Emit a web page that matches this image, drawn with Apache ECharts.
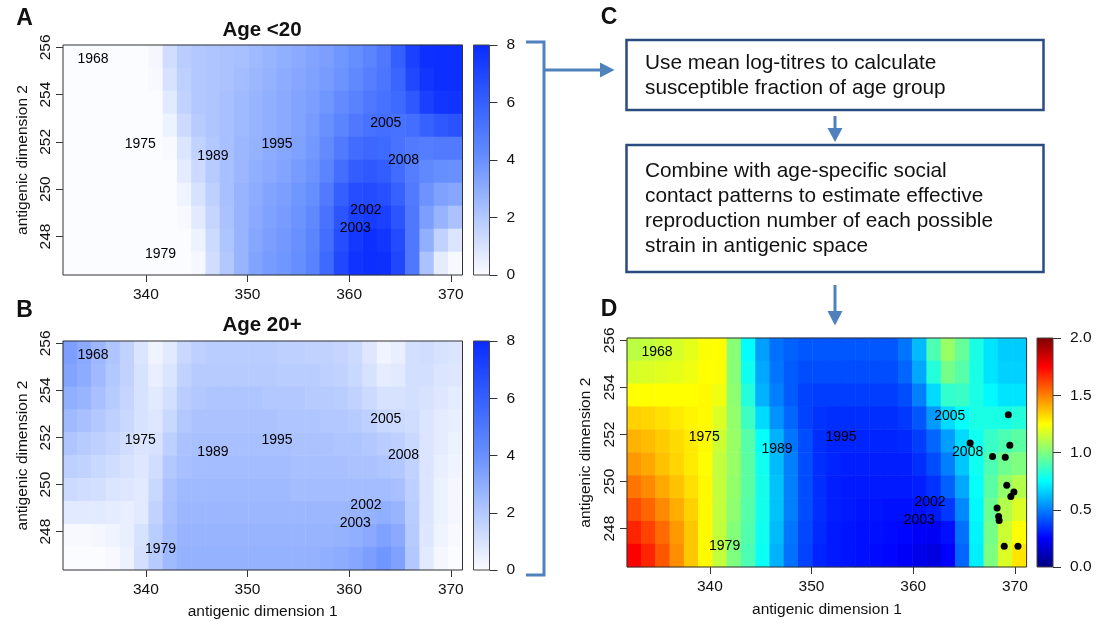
<!DOCTYPE html>
<html>
<head>
<meta charset="utf-8"/>
<title>Antigenic space - titres and reproduction number</title>
<script src="https://cdn.jsdelivr.net/npm/echarts@6/dist/echarts.min.js"></script>
<style>
    html, body { margin: 0; padding: 0; background: #fff; }
    #main { width: 1109px; height: 624px; }
</style>
</head>
<body>
<div id="main"></div>
<script>
    // axis ranges and ticks
    var xMin = 331.85, xMax = 371.15;
    var yMin = 246.37, yMax = 256.1;
    var xTicks = [340, 350, 360, 370];
    var yTicks = [248, 250, 252, 254, 256];
    var titreTicks = [0, 2, 4, 6, 8];
    var reffTicks = [0, 0.5, 1, 1.5, 2];

    // strain labels
    var yearNames = ['1968', '1975', '1979', '1989', '1995', '2002', '2003', '2005', '2008'];
    var yearX = [334.8, 339.45, 341.45, 346.6, 352.9, 361.65, 360.6, 363.6, 365.35];
    var yearY = [255.5, 251.9, 247.24, 251.38, 251.9, 249.12, 248.37, 252.78, 251.25];

    // recent strains (panel D dots)
    var dotX = [369.35, 365.6, 369.5, 367.8, 369.05, 369.2, 369.9, 369.6, 368.25, 368.4, 368.45, 368.95, 370.3];
    var dotY = [252.84, 251.64, 251.54, 251.07, 251.03, 249.84, 249.56, 249.37, 248.88, 248.52, 248.35, 247.25, 247.25];

    // mean log-titre, age <20 (rows top -> bottom, 28 columns left -> right)
    var titreYoung = [
        [0,0,0,0,0,0,0.2,1.2,1.8,2.0,2.1,2.2,2.3,2.5,2.7,2.9,3.1,3.3,3.5,3.8,4.1,4.5,5.0,6.0,7.2,7.8,7.9,7.9],
        [0,0,0,0,0,0,0.1,1.0,1.7,2.0,2.1,2.2,2.4,2.6,2.8,3.0,3.2,3.4,3.6,3.9,4.3,4.7,5.1,5.8,6.9,7.6,7.9,7.9],
        [0,0,0,0,0,0,0,0.7,1.6,2.0,2.1,2.3,2.5,2.7,2.9,3.1,3.3,3.5,3.8,4.2,4.6,5.0,5.3,5.6,6.3,7.2,7.6,7.7],
        [0,0,0,0,0,0,0,0.4,1.3,1.9,2.1,2.3,2.5,2.7,2.9,3.1,3.3,3.6,4.0,4.5,5.0,5.3,5.4,5.3,5.4,5.9,6.3,6.5],
        [0,0,0,0,0,0,0,0.1,0.9,1.6,2.0,2.3,2.6,2.8,3.0,3.2,3.4,3.7,4.2,4.9,5.5,5.7,5.6,5.2,4.9,4.8,4.9,4.9],
        [0,0,0,0,0,0,0,0,0.6,1.3,1.9,2.3,2.6,2.9,3.1,3.3,3.6,3.9,4.5,5.4,6.1,6.3,6.1,5.5,4.8,4.3,4.1,4.0],
        [0,0,0,0,0,0,0,0,0.3,1.0,1.7,2.3,2.7,3.0,3.3,3.5,3.8,4.1,4.9,6.0,6.7,6.8,6.6,5.9,4.9,3.9,3.4,3.2],
        [0,0,0,0,0,0,0,0,0.1,0.7,1.5,2.2,2.7,3.1,3.4,3.6,3.9,4.3,5.2,6.4,7.2,7.4,7.2,6.4,5.0,3.5,2.7,2.2],
        [0,0,0,0,0,0,0,0,0,0.4,1.3,2.1,2.7,3.2,3.5,3.7,4.0,4.5,5.4,6.7,7.5,7.8,7.6,6.8,5.0,2.9,1.6,0.9],
        [0,0,0,0,0,0,0,0,0,0.15,1.2,2.0,2.7,3.3,3.6,3.8,4.1,4.6,5.6,6.9,7.7,7.9,7.8,7.0,5.0,2.2,0.6,0.1]
    ];

    // mean log-titre, age 20+
    var titreOld = [
        [3.5,3.1,2.6,2.1,1.6,0.9,0.3,0.7,1.4,1.7,1.8,1.8,1.8,1.8,1.8,1.7,1.7,1.6,1.6,1.5,1.3,0.8,0.3,0.5,1.1,1.2,1.0,0.9],
        [3.3,3.0,2.5,2.0,1.6,1.0,0.5,0.9,1.6,1.9,1.9,1.9,1.9,1.9,1.9,1.8,1.8,1.8,1.7,1.6,1.4,1.0,0.6,0.7,1.1,1.1,0.9,0.8],
        [2.9,2.7,2.3,1.9,1.5,1.0,0.7,1.1,1.8,2.0,2.1,2.1,2.1,2.1,2.0,2.0,2.0,1.9,1.9,1.8,1.6,1.3,1.0,1.0,1.1,1.0,0.8,0.6],
        [2.5,2.3,2.0,1.7,1.4,1.0,0.8,1.4,2.0,2.2,2.2,2.2,2.2,2.2,2.2,2.1,2.1,2.1,2.0,2.0,1.9,1.7,1.4,1.3,1.2,0.9,0.6,0.5],
        [2.1,1.9,1.7,1.5,1.2,0.9,1.0,1.7,2.2,2.3,2.3,2.3,2.3,2.3,2.3,2.3,2.2,2.2,2.2,2.1,2.1,2.0,1.8,1.7,1.4,0.9,0.6,0.4],
        [1.7,1.6,1.4,1.2,1.0,0.8,1.2,2.0,2.3,2.4,2.4,2.4,2.4,2.4,2.4,2.4,2.3,2.3,2.3,2.3,2.2,2.2,2.1,2.0,1.6,0.9,0.5,0.3],
        [1.3,1.2,1.1,0.9,0.8,0.7,1.4,2.2,2.5,2.5,2.5,2.5,2.5,2.5,2.5,2.5,2.4,2.4,2.4,2.4,2.4,2.4,2.4,2.3,1.7,0.9,0.4,0.2],
        [0.7,0.7,0.7,0.6,0.5,0.7,1.6,2.3,2.6,2.6,2.6,2.6,2.6,2.6,2.6,2.6,2.6,2.6,2.6,2.6,2.7,2.8,2.9,2.7,1.8,0.9,0.4,0.2],
        [0.1,0.1,0.2,0.3,0.5,1.0,1.8,2.4,2.7,2.7,2.7,2.7,2.7,2.7,2.7,2.7,2.7,2.7,2.7,2.8,2.9,3.1,3.4,3.1,1.9,0.8,0.3,0.1],
        [0,0,0,0.1,0.4,1.1,1.9,2.5,2.8,2.8,2.8,2.8,2.8,2.8,2.8,2.8,2.8,2.8,2.9,3.0,3.2,3.5,3.8,3.4,2.0,0.7,0.2,0]
    ];

    // effective reproduction number
    var reffMap = [
        [1.12,1.13,1.15,1.17,1.2,1.24,1.25,1.02,0.75,0.56,0.47,0.44,0.42,0.42,0.42,0.42,0.42,0.42,0.42,0.48,0.62,0.9,1.05,0.95,0.8,0.7,0.65,0.65],
        [1.17,1.18,1.19,1.2,1.22,1.25,1.24,1.02,0.78,0.58,0.48,0.43,0.4,0.4,0.4,0.4,0.4,0.4,0.4,0.45,0.58,0.82,0.98,0.92,0.8,0.7,0.66,0.66],
        [1.25,1.25,1.25,1.25,1.25,1.26,1.22,1.03,0.82,0.6,0.5,0.43,0.38,0.37,0.37,0.37,0.37,0.37,0.37,0.4,0.5,0.68,0.85,0.86,0.8,0.74,0.7,0.7],
        [1.34,1.33,1.31,1.29,1.27,1.26,1.18,1.04,0.87,0.68,0.54,0.45,0.38,0.35,0.34,0.34,0.34,0.34,0.34,0.36,0.42,0.55,0.68,0.76,0.8,0.8,0.8,0.82],
        [1.4,1.38,1.35,1.32,1.29,1.26,1.15,1.05,0.92,0.76,0.6,0.48,0.4,0.34,0.32,0.32,0.32,0.32,0.32,0.33,0.37,0.45,0.56,0.68,0.78,0.86,0.9,0.93],
        [1.45,1.42,1.37,1.33,1.29,1.25,1.13,1.05,0.93,0.78,0.62,0.5,0.4,0.34,0.32,0.31,0.31,0.31,0.31,0.31,0.34,0.4,0.5,0.64,0.78,0.9,0.97,1.0],
        [1.52,1.48,1.42,1.37,1.31,1.26,1.13,1.04,0.93,0.79,0.63,0.5,0.4,0.34,0.31,0.3,0.3,0.3,0.3,0.3,0.31,0.35,0.44,0.58,0.76,0.93,1.04,1.1],
        [1.6,1.55,1.48,1.41,1.34,1.26,1.13,1.03,0.92,0.79,0.63,0.5,0.4,0.34,0.31,0.3,0.29,0.29,0.28,0.28,0.28,0.3,0.36,0.52,0.74,0.96,1.1,1.18],
        [1.68,1.62,1.54,1.45,1.36,1.26,1.13,1.01,0.91,0.78,0.62,0.48,0.39,0.33,0.3,0.29,0.28,0.28,0.27,0.26,0.24,0.23,0.28,0.47,0.73,0.98,1.15,1.25],
        [1.75,1.68,1.58,1.47,1.36,1.26,1.13,1.0,0.9,0.77,0.6,0.47,0.38,0.32,0.3,0.29,0.28,0.27,0.26,0.24,0.21,0.19,0.25,0.45,0.72,1.0,1.18,1.3]
    ];

    // flowchart text
    var stepOne = ['Use mean log-titres to calculate', 'susceptible fraction of age group'];
    var stepTwo = ['Combine with age-specific social', 'contact patterns to estimate effective',
        'reproduction number of each possible', 'strain in antigenic space'];

    var titreColors = ['#fbfcff', '#b3c8ff', '#6890ff', '#3560ff', '#0a2bff'];
    var jetColors = ['#00007f', '#0000ff', '#007fff', '#00ffff', '#7fff7f', '#ffff00', '#ff7f00', '#ff0000', '#7f0000'];

    var FONT = '"Liberation Sans", Arial, sans-serif';
    var INK = '#111';
    var BLUE = '#4f81bd';

    var option = {
        animation: false,
        backgroundColor: '#fff',
        grid: [], xAxis: [], yAxis: [], series: [], visualMap: [], graphic: []
    };

    function seq(n) {
        var a = [];
        for (let i = 0; i < n; i++) a.push(String(i));
        return a;
    }

    // one heat map panel plus its colour bar
    function addMap(box, cb, rows, lo, hi, colors, cbTicks, cbFmt) {
        var gi = option.grid.length;
        option.grid.push({left: box[0], top: box[1], width: box[2], height: box[3], show: true,
            borderColor: '#333', borderWidth: 1, backgroundColor: 'transparent', z: 10});
        var nRow = rows.length, nCol = rows[0].length;
        var xc = option.xAxis.length, yc = option.yAxis.length;
        option.xAxis.push({type: 'category', gridIndex: gi, show: false, position: 'top', data: seq(nCol)});
        option.yAxis.push({type: 'category', gridIndex: gi, show: false, position: 'right', data: seq(nRow)});
        option.xAxis.push({
            type: 'value', gridIndex: gi, position: 'bottom', min: xMin, max: xMax,
            axisLine: {show: false}, splitLine: {show: false},
            axisTick: {show: true, length: 7, customValues: xTicks, lineStyle: {color: '#333'}},
            axisLabel: {customValues: xTicks, margin: 12, fontSize: 15.5, color: INK, fontFamily: FONT}
        });
        option.yAxis.push({
            type: 'value', gridIndex: gi, position: 'left', min: yMin, max: yMax,
            axisLine: {show: false}, splitLine: {show: false},
            axisTick: {show: true, length: 7, customValues: yTicks, lineStyle: {color: '#333'}},
            axisLabel: {customValues: yTicks, rotate: 90, margin: 9, fontSize: 15.5, color: INK, fontFamily: FONT}
        });

        var cells = [];
        rows.forEach(function (row, r) {
            row.forEach(function (v, c) { cells.push([c, nRow - 1 - r, v]); });
        });
        var si = option.series.length;
        option.series.push({type: 'heatmap', xAxisIndex: xc, yAxisIndex: yc, data: cells, silent: true, z: 1});
        option.visualMap.push({type: 'continuous', show: false, seriesIndex: si, min: lo, max: hi,
            inRange: {color: colors}});

        // colour bar
        var cg = option.grid.length;
        option.grid.push({left: cb[0], top: cb[1], width: cb[2], height: cb[3], show: true,
            borderColor: '#444', borderWidth: 1, backgroundColor: 'transparent', z: 10});
        var cx = option.xAxis.length, cy = option.yAxis.length;
        option.xAxis.push({type: 'category', gridIndex: cg, show: false, data: ['bar']});
        option.yAxis.push({
            type: 'value', gridIndex: cg, position: 'right', min: lo, max: hi,
            axisLine: {show: false}, splitLine: {show: false},
            axisTick: {show: true, length: 8, customValues: cbTicks, lineStyle: {color: '#333'}},
            axisLabel: {customValues: cbTicks, margin: 17, fontSize: 15.5, color: INK, fontFamily: FONT,
                formatter: cbFmt}
        });
        var stops = colors.map(function (c, i) { return {offset: i / (colors.length - 1), color: c}; });
        option.series.push({type: 'bar', xAxisIndex: cx, yAxisIndex: cy, data: [hi], barWidth: '100%',
            silent: true, itemStyle: {color: new echarts.graphic.LinearGradient(0, 1, 0, 0, stops)}});

        // strain labels
        option.series.push({
            type: 'scatter', xAxisIndex: xc + 1, yAxisIndex: yc + 1, symbolSize: 1, silent: true, z: 5,
            itemStyle: {color: 'rgba(0,0,0,0)', opacity: 1},
            label: {show: true, position: 'inside', formatter: '{b}', fontSize: 14, color: '#000',
                opacity: 1, textBorderWidth: 0, fontFamily: FONT},
            data: yearNames.map(function (n, i) { return {name: n, value: [yearX[i], yearY[i]]}; })
        });
        return {x: xc + 1, y: yc + 1};
    }

    function intFmt(v) { return String(Math.round(v)); }
    function oneDec(v) { return Number(v).toFixed(1); }

    addMap([63, 45, 399.5, 230], [473.5, 45, 16, 230], titreYoung, 0, 8, titreColors, titreTicks, intFmt);
    addMap([63, 341, 399.5, 229], [473.5, 341, 16, 229], titreOld, 0, 8, titreColors, titreTicks, intFmt);
    var axD = addMap([627, 338, 399.6, 229], [1037, 338, 16, 229], reffMap, 0, 2, jetColors, reffTicks, oneDec);

    option.series.push({
        type: 'scatter', xAxisIndex: axD.x, yAxisIndex: axD.y, symbolSize: 7, silent: true, z: 6,
        itemStyle: {color: '#000', opacity: 1},
        data: dotX.map(function (x, i) { return [x, dotY[i]]; })
    });

    // texts and flowchart
    function text(x, y, s, font, rot, align) {
        option.graphic.push({
            type: 'text', x: x, y: y, rotation: rot || 0, silent: true,
            style: {text: s, font: font, fill: INK, align: align || 'center', textAlign: align || 'center',
                verticalAlign: 'middle', textVerticalAlign: 'middle'}
        });
    }
    var letterFont = 'bold 23px ' + FONT;
    var titleFont = 'bold 20.5px ' + FONT;
    var labFont = '15.5px ' + FONT;
    var boxFont = '20.8px ' + FONT;

    text(24.5, 19, 'A', letterFont);
    text(24.5, 311, 'B', letterFont);
    text(609, 17.5, 'C', letterFont);
    text(609, 310, 'D', letterFont);
    text(262, 30.5, 'Age <20', titleFont);
    text(262, 325.5, 'Age 20+', titleFont);
    text(22.4, 160, 'antigenic dimension 2', labFont, Math.PI / 2);
    text(22.4, 455.5, 'antigenic dimension 2', labFont, Math.PI / 2);
    text(586, 452.7, 'antigenic dimension 2', labFont, Math.PI / 2);
    text(262.7, 612, 'antigenic dimension 1', labFont);
    text(827, 610, 'antigenic dimension 1', labFont);

    option.graphic.push({type: 'rect', shape: {x: 626.5, y: 40, width: 417, height: 70}, silent: true,
        style: {fill: '#fff', stroke: '#2b4c80', lineWidth: 2.5}});
    option.graphic.push({type: 'rect', shape: {x: 626.5, y: 145, width: 417, height: 127}, silent: true,
        style: {fill: '#fff', stroke: '#2b4c80', lineWidth: 2.5}});
    stepOne.forEach(function (s, i) { text(645, 63 + i * 25.5, s, boxFont, 0, 'left'); });
    stepTwo.forEach(function (s, i) { text(645, 171 + i * 25, s, boxFont, 0, 'left'); });

    function stroke(points) {
        option.graphic.push({type: 'polyline', shape: {points: points}, silent: true,
            style: {stroke: BLUE, lineWidth: 3, fill: null}});
    }
    function head(points) {
        option.graphic.push({type: 'polygon', shape: {points: points}, silent: true,
            style: {fill: BLUE, stroke: null}});
    }
    stroke([[526, 42], [544, 42], [544, 575], [526, 575]]);
    stroke([[544, 70], [602, 70]]);
    head([[600, 62.5], [600, 77.5], [614.5, 70]]);
    stroke([[835, 116], [835, 130]]);
    head([[827.5, 128], [842.5, 128], [835, 142]]);
    stroke([[835, 285], [835, 313]]);
    head([[827.5, 311], [842.5, 311], [835, 325.5]]);

    var myChart = echarts.init(document.getElementById('main'));
    myChart.setOption(option);
</script>
</body>
</html>
